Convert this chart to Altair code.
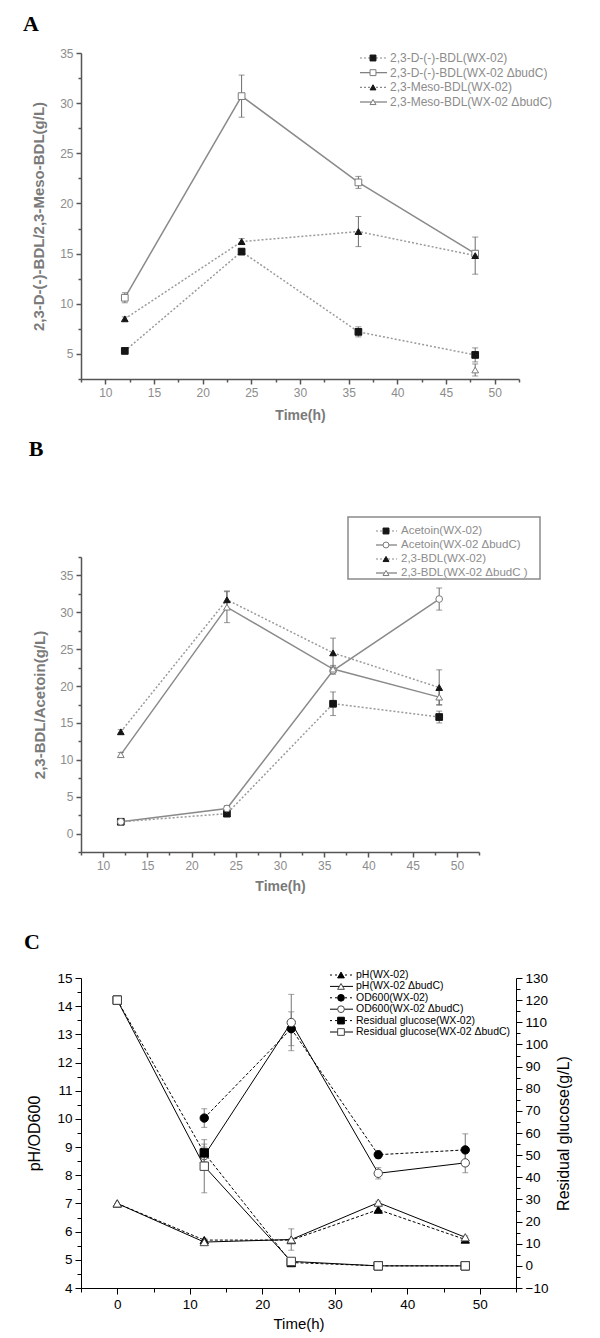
import altair as alt
import pandas as pd

# ---------------- Panel A data ----------------
time_a = [12, 24, 36, 48]
a_d_wx = [5.3, 15.2, 7.2, 4.9]
a_d_wx_err = [0.2, 0.3, 0.5, 0.7]
a_d_mut = [10.6, 30.7, 22.1, 15.0]
a_d_mut_err = [0.5, 2.1, 0.6, 0.3]
a_meso_wx = [8.5, 16.2, 17.2, 14.8]
a_meso_wx_err = [0.2, 0.3, 1.5, 1.85]
time_a_meso_mut = [48]
a_meso_mut = [3.4]
a_meso_mut_err = [0.6]
legend_a = ["2,3-D-(-)-BDL(WX-02)", "2,3-D-(-)-BDL(WX-02 \u0394budC)",
            "2,3-Meso-BDL(WX-02)", "2,3-Meso-BDL(WX-02 \u0394budC)"]

# ---------------- Panel B data ----------------
time_b = [12, 24, 36, 48]
b_acet_wx = [1.6, 2.7, 17.6, 15.8]
b_acet_wx_err = [0.2, 0.2, 1.6, 0.8]
b_acet_mut = [1.6, 3.4, 22.1, 31.8]
b_acet_mut_err = [0.2, 0.4, 0.5, 1.5]
b_bdl_wx = [13.8, 31.7, 24.5, 19.8]
b_bdl_wx_err = [0.3, 1.2, 2.0, 2.4]
b_bdl_mut = [10.7, 30.7, 22.3, 18.5]
b_bdl_mut_err = [0.3, 2.1, 0.5, 1.0]
legend_b = ["Acetoin(WX-02)", "Acetoin(WX-02 \u0394budC)",
            "2,3-BDL(WX-02)", "2,3-BDL(WX-02 \u0394budC )"]

# ---------------- Panel C data ----------------
time_c = [0, 12, 24, 36, 48]
time_c_od = [12, 24, 36, 48]
c_ph_wx = [7.0, 5.7, 5.7, 6.78, 5.72]
c_ph_wx_err = [0, 0.06, 0.05, 0.1, 0.08]
c_ph_mut = [7.0, 5.63, 5.72, 7.03, 5.8]
c_ph_mut_err = [0, 0.05, 0.38, 0.05, 0.05]
c_od_wx = [10.03, 13.2, 8.73, 8.9]
c_od_wx_err = [0.33, 0.6, 0.13, 0.57]
c_od_mut = [8.7, 13.42, 8.07, 8.44]
c_od_mut_err = [0.3, 1.0, 0.2, 0.35]
c_glu_wx = [120, 51, 1.5, 0, 0]
c_glu_wx_err = [0, 4, 0.5, 0, 0]
c_glu_mut = [120, 45, 2, 0, 0]
c_glu_mut_err = [0, 12, 0.6, 0, 0]
legend_c = ["pH(WX-02)", "pH(WX-02 \u0394budC)", "OD600(WX-02)", "OD600(WX-02 \u0394budC)",
            "Residual glucose(WX-02)", "Residual glucose(WX-02 \u0394budC)"]

# ---------------- axis tick positions ----------------
ab_x_ticks = [7.5 + 2.5 * i for i in range(19)]
a_y_ticks = [2.5 + 2.5 * i for i in range(14)]
b_y_ticks = [-2.5 + 2.5 * i for i in range(17)]
c_x_ticks = [-5 + 5 * i for i in range(13)]
c_y_ticks = [4 + 0.5 * i for i in range(23)]
c_y2_ticks = [-10 + 5 * i for i in range(29)]

SANS = "Liberation Sans"
SERIF = "Liberation Serif"


def build(entries):
    rows = []
    for e in entries:
        for t, v, er in zip(e["t"], e["v"], e["err"]):
            rows.append({"series": e["name"], "t": t, "v": v, "lo": v - er, "hi": v + er,
                         "err": er, "shape": e["shape"], "fill": e["fill"],
                         "stroke": e["stroke"], "solid": e["solid"]})
    return pd.DataFrame(rows)


def mk_axis(title, values, major, big, small, dom, lab, tit, lsize, tsize, tweight,
            tpad, lpad, dwidth, orient=None, title_angle=None):
    kw = dict(title=title, values=values, format="~g",
              labelExpr=f"datum.value % {major} === 0 ? datum.label : ''",
              tickSize={"condition": {"test": f"datum.value % {major} !== 0", "value": small},
                        "value": big},
              grid=False, domainColor=dom, tickColor=dom, domainWidth=dwidth, tickWidth=dwidth,
              labelColor=lab, titleColor=tit, labelFont=SANS, titleFont=SANS,
              labelFontSize=lsize, titleFontSize=tsize, titleFontWeight=tweight,
              titlePadding=tpad, labelPadding=lpad, labelFlush=False, labelOverlap=False)
    if orient:
        kw["orient"] = orient
    if title_angle is not None:
        kw["titleAngle"] = title_angle
    return alt.Axis(**kw)


def data_layer(df, xs, xa, ys, ya, lcol, dcol, lw, dash, ecol, msize):
    base = alt.Chart(df)
    x = alt.X("t:Q", scale=xs, axis=xa)
    y = alt.Y("v:Q", scale=ys, axis=ya)
    ylo = alt.Y("lo:Q", scale=ys, axis=ya)
    yhi = alt.Y("hi:Q", scale=ys, axis=ya)
    solid = base.transform_filter("datum.solid").mark_line(color=lcol, strokeWidth=lw).encode(
        x=x, y=y, detail="series:N", order="t:Q")
    dotted = base.transform_filter("!datum.solid").mark_line(
        color=dcol, strokeWidth=lw, strokeDash=dash).encode(x=x, y=y, detail="series:N", order="t:Q")
    eb = base.transform_filter("datum.err > 0")
    rule = eb.mark_rule(color=ecol, strokeWidth=1).encode(x=x, y=ylo, y2="hi:Q")
    cap1 = eb.mark_tick(orient="horizontal", size=6, thickness=1, color=ecol).encode(x=x, y=ylo)
    cap2 = eb.mark_tick(orient="horizontal", size=6, thickness=1, color=ecol).encode(x=x, y=yhi)
    pts = base.mark_point(filled=True, opacity=1, size=msize, strokeWidth=1).encode(
        x=x, y=y,
        shape=alt.Shape("shape:N", scale=None),
        fill=alt.Fill("fill:N", scale=None),
        stroke=alt.Stroke("stroke:N", scale=None))
    return alt.layer(solid, dotted, rule, cap1, cap2, pts)


def legend_layer(labels, shapes, fills, strokes, solids, xl1, xl2, xm, xt, yr, fsize,
                 tcol, lcol, dcol, dash, msize, lw):
    n = len(labels)
    ldf = pd.DataFrame({"idx": list(range(n)), "label": labels, "shape": shapes,
                        "fill": fills, "stroke": strokes, "solid": solids})
    base = alt.Chart(ldf)
    y = alt.Y("idx:Q", scale=alt.Scale(domain=[0, n - 1], range=yr), axis=None)
    s = base.transform_filter("datum.solid").mark_rule(color=lcol, strokeWidth=lw).encode(
        x=alt.value(xl1), x2=alt.value(xl2), y=y)
    d = base.transform_filter("!datum.solid").mark_rule(color=dcol, strokeWidth=lw, strokeDash=dash).encode(
        x=alt.value(xl1), x2=alt.value(xl2), y=y)
    p = base.mark_point(filled=True, opacity=1, size=msize, strokeWidth=1).encode(
        x=alt.value(xm), y=y,
        shape=alt.Shape("shape:N", scale=None),
        fill=alt.Fill("fill:N", scale=None),
        stroke=alt.Stroke("stroke:N", scale=None))
    t = base.mark_text(align="left", baseline="middle", font=SANS, fontSize=fsize, color=tcol).encode(
        x=alt.value(xt), y=y, text="label:N")
    return alt.layer(s, d, p, t)


def letter(ch, x, y):
    return alt.Chart(pd.DataFrame({"c": [ch]})).mark_text(
        font=SERIF, fontSize=22, fontWeight="bold", color="black", align="center",
        baseline="middle").encode(x=alt.value(x), y=alt.value(y), text="c:N")


# ---------------- styles ----------------
GDOM, GLAB, GTIT = "#555555", "#8c8c8c", "#7a7a7a"
FILLED, OPEN_STROKE = "#151515", "#7a7a7a"

# ---------------- Panel A ----------------
df_a = build([
    dict(name=legend_a[0], t=time_a, v=a_d_wx, err=a_d_wx_err, shape="square", fill=FILLED, stroke=FILLED, solid=False),
    dict(name=legend_a[1], t=time_a, v=a_d_mut, err=a_d_mut_err, shape="square", fill="white", stroke=OPEN_STROKE, solid=True),
    dict(name=legend_a[2], t=time_a, v=a_meso_wx, err=a_meso_wx_err, shape="triangle-up", fill=FILLED, stroke=FILLED, solid=False),
    dict(name=legend_a[3], t=time_a_meso_mut, v=a_meso_mut, err=a_meso_mut_err, shape="triangle-up", fill="white", stroke=OPEN_STROKE, solid=True),
])
xs_ab = alt.Scale(domain=[7.5, 52.5], nice=False, zero=False)
xa_a = mk_axis("Time(h)", ab_x_ticks, 5, 5, 3, GDOM, GLAB, GTIT, 12, 14, "bold", 10, 3, 1.5)
ys_a = alt.Scale(domain=[2.5, 35], nice=False, zero=False)
ya_a = mk_axis("2,3-D-(-)-BDL/2,3-Meso-BDL(g/L)", a_y_ticks, 5, 5, 3, GDOM, GLAB, GTIT, 12, 15, "bold", 13, 3, 1.5)

panel_a = alt.layer(
    data_layer(df_a, xs_ab, xa_a, ys_a, ya_a, "#8a8a8a", "#9a9a9a", 1.5, [2, 2], "#6a6a6a", 45),
    legend_layer(legend_a, ["square", "square", "triangle-up", "triangle-up"],
                 [FILLED, "white", FILLED, "white"], [FILLED, OPEN_STROKE, FILLED, OPEN_STROKE],
                 [False, True, False, True], 279, 306, 292, 309, [5, 49], 12, "#8c8c8c",
                 "#7a7a7a", "#8a8a8a", [2, 2], 35, 1.2),
    letter("A", -50, -29),
).resolve_scale(y="independent").properties(width=438, height=326)

# ---------------- Panel B ----------------
df_b = build([
    dict(name=legend_b[0], t=time_b, v=b_acet_wx, err=b_acet_wx_err, shape="square", fill=FILLED, stroke=FILLED, solid=False),
    dict(name=legend_b[1], t=time_b, v=b_acet_mut, err=b_acet_mut_err, shape="circle", fill="white", stroke=OPEN_STROKE, solid=True),
    dict(name=legend_b[2], t=time_b, v=b_bdl_wx, err=b_bdl_wx_err, shape="triangle-up", fill=FILLED, stroke=FILLED, solid=False),
    dict(name=legend_b[3], t=time_b, v=b_bdl_mut, err=b_bdl_mut_err, shape="triangle-up", fill="white", stroke=OPEN_STROKE, solid=True),
])
xa_b = mk_axis("Time(h)", ab_x_ticks, 5, 5, 3, GDOM, GLAB, GTIT, 12, 14, "bold", 8, 3, 1.5)
ys_b = alt.Scale(domain=[-2.5, 37.5], nice=False, zero=False)
ya_b = mk_axis("2,3-BDL/Acetoin(g/L)", b_y_ticks, 5, 5, 3, GDOM, GLAB, GTIT, 12, 15, "bold", 12, 3, 1.5)

box_b = alt.Chart(pd.DataFrame({"k": [0]})).mark_rect(
    fill="white", fillOpacity=0, stroke="#8a8a8a", strokeWidth=1.5).encode(
    x=alt.value(267), x2=alt.value(459), y=alt.value(-40), y2=alt.value(22))

panel_b = alt.layer(
    data_layer(df_b, xs_ab, xa_b, ys_b, ya_b, "#8a8a8a", "#9a9a9a", 1.5, [2, 2], "#6a6a6a", 45),
    box_b,
    legend_layer(legend_b, ["square", "circle", "triangle-up", "triangle-up"],
                 [FILLED, "white", FILLED, "white"], [FILLED, OPEN_STROKE, FILLED, OPEN_STROKE],
                 [False, True, False, True], 295, 316, 305, 320, [-26, 16], 11.5, "#8c8c8c",
                 "#7a7a7a", "#8a8a8a", [2, 2], 35, 1.2),
    letter("B", -45, -108),
).resolve_scale(y="independent").properties(width=398, height=295)

# ---------------- Panel C ----------------
df_c_left = build([
    dict(name=legend_c[0], t=time_c, v=c_ph_wx, err=c_ph_wx_err, shape="triangle-up", fill="black", stroke="black", solid=False),
    dict(name=legend_c[1], t=time_c, v=c_ph_mut, err=c_ph_mut_err, shape="triangle-up", fill="white", stroke="#444444", solid=True),
    dict(name=legend_c[2], t=time_c_od, v=c_od_wx, err=c_od_wx_err, shape="circle", fill="black", stroke="black", solid=False),
    dict(name=legend_c[3], t=time_c_od, v=c_od_mut, err=c_od_mut_err, shape="circle", fill="white", stroke="#444444", solid=True),
])
df_c_right = build([
    dict(name=legend_c[4], t=time_c, v=c_glu_wx, err=c_glu_wx_err, shape="square", fill="black", stroke="black", solid=False),
    dict(name=legend_c[5], t=time_c, v=c_glu_mut, err=c_glu_mut_err, shape="square", fill="white", stroke="#444444", solid=True),
])
xs_c = alt.Scale(domain=[-5, 55], nice=False, zero=False)
xa_c = mk_axis("Time(h)", c_x_ticks, 10, 6, 4, "black", "black", "black", 13.5, 15, "normal", 6, 3, 1)
ys_c = alt.Scale(domain=[4, 15], nice=False, zero=False)
ya_c = mk_axis("pH/OD600", c_y_ticks, 1, 6, 4, "black", "black", "black", 13.5, 16, "normal", 14, 3, 1, orient="left")
ys_c2 = alt.Scale(domain=[-10, 130], nice=False, zero=False)
ya_c2 = mk_axis("Residual glucose(g/L)", c_y2_ticks, 10, 6, 4, "black", "black", "black", 13.5, 16, "normal", 24, 3, 1,
                orient="right", title_angle=270)

panel_c = alt.layer(
    data_layer(df_c_left, xs_c, xa_c, ys_c, ya_c, "black", "black", 1, [3, 2], "#777777", 70),
    data_layer(df_c_right, xs_c, xa_c, ys_c2, ya_c2, "black", "black", 1, [3, 2], "#777777", 70),
    legend_layer(legend_c, ["triangle-up", "triangle-up", "circle", "circle", "square", "square"],
                 ["black", "white", "black", "white", "black", "white"],
                 ["black", "#444444", "black", "#444444", "black", "#444444"],
                 [False, True, False, True, False, True], 249, 272, 260, 275, [-3, 54], 10.5, "black",
                 "black", "black", [2, 3], 45, 1),
    letter("C", -49, -36),
    alt.Chart(pd.DataFrame({"c": ["C"]})).mark_text(fontSize=22, opacity=0).encode(
        x=alt.value(-49), y=alt.value(-58), text="c:N"),
).resolve_scale(y="independent").properties(width=435, height=310)

chart = alt.vconcat(panel_a, panel_b, panel_c, spacing=16).configure_view(stroke=None).properties(
    padding={"left": 15, "top": 5, "right": 5, "bottom": 5})

chart.save("out.html", embed_options={"renderer": "svg", "actions": False})
